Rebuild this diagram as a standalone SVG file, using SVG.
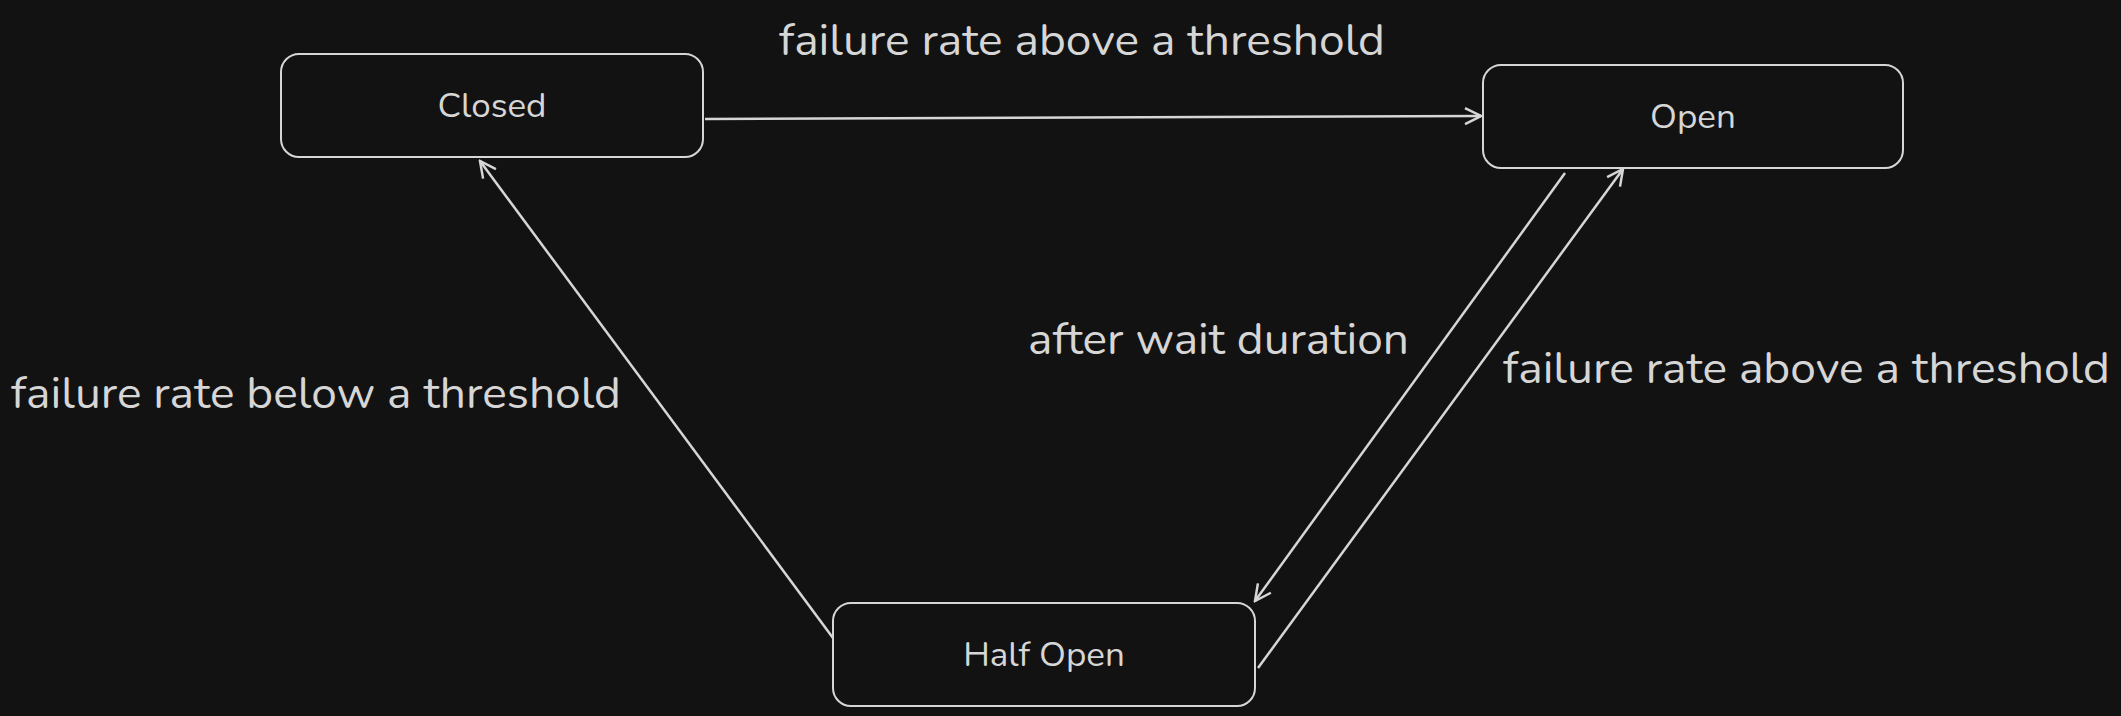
<svg xmlns="http://www.w3.org/2000/svg" width="2121" height="716" viewBox="0 0 2121 716">
<style>
.box{fill:#121212;stroke:#d6d6d6;stroke-width:2}
.lbl{font-family:"Nunito","Lato","Noto Sans",sans-serif;fill:#d6d6d6;font-size:35px;text-anchor:middle}
.ed{font-family:"Nunito","Lato","Noto Sans",sans-serif;fill:#d6d6d6;font-size:44px}
.ln{stroke:#d6d6d6;stroke-width:2.5;fill:none;marker-end:url(#a)}
</style>
<defs><marker id="a" viewBox="0 0 20 20" refX="18" refY="10" markerWidth="20" markerHeight="20" markerUnits="userSpaceOnUse" orient="auto"><path d="M2 2 L18 10 L2 18" fill="none" stroke="#d6d6d6" stroke-width="2.5"/></marker></defs>
<rect width="2121" height="716" fill="#121212"/>
<g id="closed"><rect class="box" x="281" y="54" width="422" height="103" rx="18"/><text class="lbl" x="492" y="117">Closed</text></g>
<g id="open"><rect class="box" x="1483" y="65" width="420" height="103" rx="18"/><text class="lbl" x="1693" y="128">Open</text></g>
<g id="halfopen"><rect class="box" x="833" y="603" width="422" height="103" rx="18"/><text class="lbl" x="1044" y="666">Half Open</text></g>
<g id="connectors">
<path class="ln" d="M705 119 L1481 116"/>
<path class="ln" d="M1565 173 L1255 601"/>
<path class="ln" d="M1258 668 L1623 169"/>
<path class="ln" d="M833 638 L480 161"/>
</g>
<g id="labels">
<text class="ed" x="779" y="55" textLength="606" lengthAdjust="spacingAndGlyphs">failure rate above a threshold</text>
<text class="ed" x="1028" y="354" textLength="381" lengthAdjust="spacingAndGlyphs">after wait duration</text>
<text class="ed" x="1503" y="383" textLength="607" lengthAdjust="spacingAndGlyphs">failure rate above a threshold</text>
<text class="ed" x="11" y="408" textLength="610" lengthAdjust="spacingAndGlyphs">failure rate below a threshold</text>
</g>
</svg>
